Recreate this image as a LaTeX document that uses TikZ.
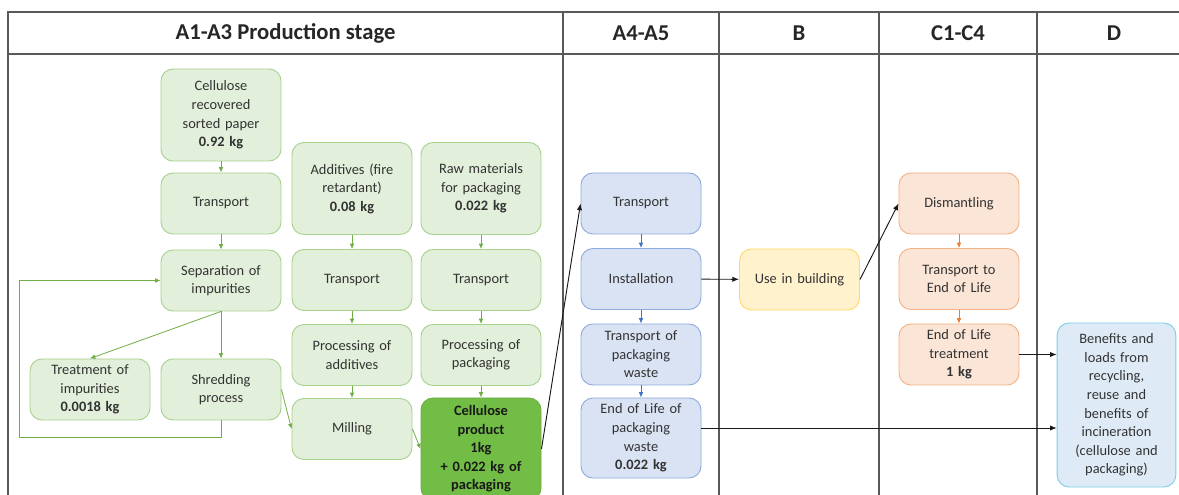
\documentclass[tikz,border=0pt]{standalone}
\usepackage{fontspec}
\setmainfont{Carlito}
\usepackage{xcolor}
\usetikzlibrary{arrows.meta,positioning,calc}

\definecolor{grfill}{HTML}{E2EFDA}
\definecolor{grline}{HTML}{A9D18E}
\definecolor{grarrow}{HTML}{70AD47}
\definecolor{prodfill}{RGB}{114,189,69}
\definecolor{blfill}{HTML}{DAE3F3}
\definecolor{blline}{HTML}{8FAADC}
\definecolor{blarrow}{HTML}{4472C4}
\definecolor{yefill}{HTML}{FFF2CC}
\definecolor{yeline}{HTML}{FFD966}
\definecolor{orfill}{HTML}{FBE5D6}
\definecolor{orline}{HTML}{F4B183}
\definecolor{orarrow}{HTML}{ED7D31}
\definecolor{cyfill}{HTML}{DEEBF7}
\definecolor{cyline}{HTML}{7CCFE8}
\definecolor{boxtext}{HTML}{333333}

\begin{document}
\begin{tikzpicture}[
  x=0.75pt, y=-0.75pt,
  font=\fontsize{10.8}{13.9}\selectfont,
  box/.style={draw, rounded corners=9pt, align=center, text width=84pt,
    minimum width=90pt, minimum height=45.75pt, inner sep=2pt, line width=0.7pt, text=boxtext},
  tall/.style={minimum height=69pt},
  gbox/.style={box, fill=grfill, draw=grline},
  prodbox/.style={box, fill=prodfill, draw=grarrow, text=black!90, font=\fontsize{10.8}{13.9}\selectfont\bfseries},
  bbox/.style={box, fill=blfill, draw=blline},
  ybox/.style={box, fill=yefill, draw=yeline},
  obox/.style={box, fill=orfill, draw=orline},
  cbox/.style={box, fill=cyfill, draw=cyline},
  head/.style={font=\fontsize{17}{20}\selectfont\bfseries, text=black!85},
  frame/.style={draw=black!65, line width=0.8pt},
  garr/.style={-{Latex[length=4pt,width=3.5pt]}, draw=grarrow, line width=0.6pt},
  barr/.style={-{Latex[length=4pt,width=3.5pt]}, draw=blarrow, line width=0.6pt},
  oarr/.style={-{Latex[length=4pt,width=3.5pt]}, draw=orarrow, line width=0.6pt},
  karr/.style={-{Latex[length=5pt,width=4pt]}, draw=black!90, line width=0.7pt}
]
  \clip (0,0) rectangle (1179,495);
  \fill[white] (0,0) rectangle (1179,495);
  \draw[frame] (8,12) rectangle (1191,520);
  \draw[frame] (8,54) -- (1191,54);
  \foreach \cx in {563,719,879,1037} \draw[frame] (\cx,12) -- (\cx,520);

  \node[head] (hA) at (285.5,33) {A1-A3 Production stage};
  \node[head] (hAA) at (641,33) {A4-A5};
  \node[head] (hB) at (799,33) {B};
  \node[head] (hC) at (958,33) {C1-C4};
  \node[head] (hD) at (1114,33) {D};

  \node[gbox, minimum height=69pt] (rec) at (221,115) {Cellulose\\recovered\\sorted paper\\\textbf{0.92 kg}};
  \node[gbox] (tr1) at (221,203.5) {Transport};
  \node[gbox] (sep) at (221,280.5) {Separation of\\impurities};
  \node[gbox] (treat) at (90,389.5) {Treatment of\\impurities\\\textbf{0.0018 kg}};
  \node[gbox] (shred) at (221,389.5) {Shredding\\process};

  \node[gbox, tall] (add) at (352,188.5) {Additives (fire\\retardant)\\\textbf{0.08 kg}};
  \node[gbox] (tr2) at (352,280) {Transport};
  \node[gbox] (padd) at (352,355) {Processing of\\additives};
  \node[gbox] (mill) at (352,429) {Milling};

  \node[gbox, tall] (raw) at (481,188.5) {Raw materials\\for packaging\\\textbf{0.022 kg}};
  \node[gbox] (tr3) at (481,280) {Transport};
  \node[gbox] (ppack) at (481,355) {Processing of\\packaging};
  \node[prodbox, minimum height=76.5pt] (prod) at (481,449) {Cellulose\\product\\1kg\\+ 0.022 kg of\\packaging};

  \node[bbox] (btr) at (641,203.5) {Transport};
  \node[bbox] (inst) at (641,279) {Installation};
  \node[bbox] (tpw) at (641,354.5) {Transport of\\packaging\\waste};
  \node[bbox, minimum height=60pt] (eolp) at (641,438) {End of Life of\\packaging\\waste\\\textbf{0.022 kg}};

  \node[ybox] (use) at (799.5,279.5) {Use in building};

  \node[obox] (dism) at (959,203.5) {Dismantling};
  \node[obox] (tre) at (959,279) {Transport to\\End of Life};
  \node[obox] (eolt) at (959,354.5) {End of Life\\treatment\\\textbf{1 kg}};

  \node[cbox, minimum width=89pt, minimum height=123pt] (ben) at (1116.5,405) {Benefits and\\loads from\\recycling,\\reuse and\\benefits of\\incineration\\(cellulose and\\packaging)};

  \draw[garr] (rec) -- (tr1);
  \draw[garr] (tr1) -- (sep);
  \draw[garr] (sep.south) -- (treat.north);
  \draw[garr] (sep) -- (shred);
  \coordinate (loopcorner) at (19,437);
  \draw[garr] (shred.south) |- (loopcorner) |- (sep.west);
  \draw[garr] (add) -- (tr2);
  \draw[garr] (tr2) -- (padd);
  \draw[garr] (padd) -- (mill);
  \draw[garr] (raw) -- (tr3);
  \draw[garr] (tr3) -- (ppack);
  \draw[garr] (ppack) -- (prod);
  \draw[garr] (shred.east) -- (mill.west);
  \draw[garr] (mill.east) -- (prod.west);

  \draw[barr] (btr) -- (inst);
  \draw[barr] (inst) -- (tpw);
  \draw[barr] (tpw) -- (eolp);
  \draw[oarr] (dism) -- (tre);
  \draw[oarr] (tre) -- (eolt);

  \draw[karr] (prod.east) -- (btr.west);
  \draw[karr] (inst) -- (use);
  \draw[karr] (use.east) -- (dism.west);
  \draw[karr] (eolt.east) -- (eolt.east -| ben.west);
  \coordinate (eolpout) at ([yshift=7.5pt]eolp.east);
  \draw[karr] (eolpout) -- (eolpout -| ben.west);
\end{tikzpicture}
\end{document}
